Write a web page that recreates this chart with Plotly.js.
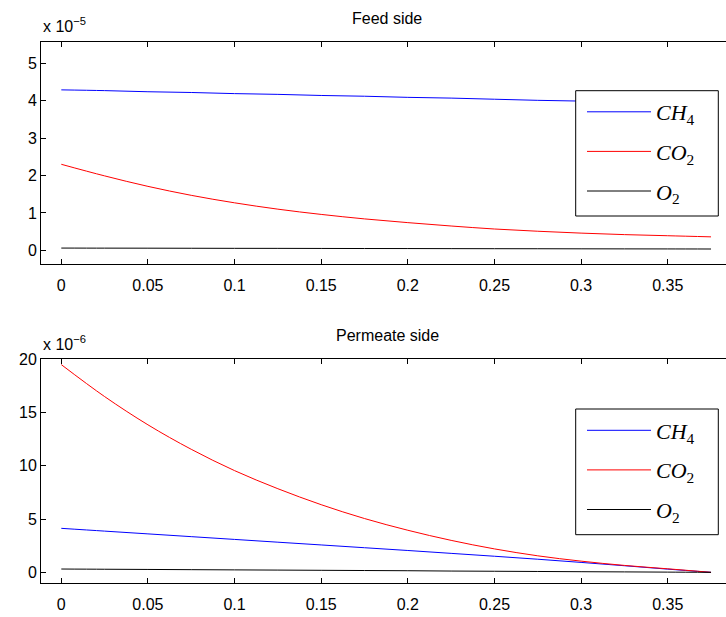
<!DOCTYPE html>
<html>
<head>
<meta charset="utf-8">
<script src="https://cdn.plot.ly/plotly-3.0.1.min.js"></script>
<style>
html,body{margin:0;padding:0;overflow:hidden;background:#fff;}
#chart{width:745px;height:617px;}
</style>
</head>
<body>
<div id="chart"></div>
<script>
// Shared x positions (membrane length)
const xPos = [0, 0.025, 0.05, 0.075, 0.1, 0.125, 0.15, 0.175, 0.2, 0.225, 0.25, 0.275, 0.3, 0.325, 0.35, 0.375];

// Feed side (units of 1e-5)
const feedCH4 = [4.29, 4.27, 4.24, 4.22, 4.19, 4.17, 4.14, 4.12, 4.09, 4.07, 4.04, 4.01, 3.99, 3.96, 3.94, 3.91];
const feedCO2 = [2.30, 1.99, 1.71, 1.47, 1.27, 1.10, 0.96, 0.84, 0.74, 0.65, 0.57, 0.51, 0.46, 0.42, 0.39, 0.36];
const feedO2  = [0.060, 0.058, 0.057, 0.055, 0.053, 0.052, 0.050, 0.048, 0.047, 0.045, 0.043, 0.042, 0.040, 0.038, 0.037, 0.035];

// Permeate side (units of 1e-6)
const permCH4 = [4.13, 3.87, 3.61, 3.35, 3.09, 2.83, 2.57, 2.31, 2.05, 1.78, 1.51, 1.23, 0.93, 0.62, 0.30, 0.0];
const permCO2 = [19.5, 16.5, 13.85, 11.55, 9.55, 7.85, 6.35, 5.05, 3.95, 3.0, 2.2, 1.55, 1.05, 0.65, 0.33, 0.0];
const permO2  = [0.31, 0.29, 0.27, 0.25, 0.23, 0.21, 0.19, 0.17, 0.15, 0.12, 0.10, 0.08, 0.06, 0.04, 0.02, 0.0];

const seriesNames = ['<i>CH</i><sub>4</sub>', '<i>CO</i><sub>2</sub>', '<i>O</i><sub>2</sub>'];
const seriesColors = ['#0000ff', '#ff0000', '#000000'];
const titles = ['Feed side', 'Permeate side'];
const exponents = ['x 10<sup>\u22125</sup>', 'x 10<sup>\u22126</sup>'];

const W = 745, H = 617;
const plotL = 41, plotR = 733;
const topY = [41.7, 264.3], botY = [359.3, 583.3];
const x0px = 61.3, pxPerUnit = 1732.6;
const xRange = [(plotL - x0px) / pxPerUnit, (plotR - x0px) / pxPerUnit];

const traces = [];
[[feedCH4, feedCO2, feedO2], [permCH4, permCO2, permO2]].forEach((set, k) => {
  set.forEach((ys, i) => {
    traces.push({
      x: xPos, y: ys, type: 'scatter', mode: 'lines',
      name: seriesNames[i],
      line: {color: seriesColors[i], width: 1, shape: 'spline', smoothing: 1},
      xaxis: k === 0 ? 'x' : 'x2',
      yaxis: k === 0 ? 'y' : 'y2',
      legend: k === 0 ? 'legend' : 'legend2',
      legendgroup: 'g' + k + i
    });
  });
});

const font = {family: 'Liberation Sans, Arial, Helvetica, sans-serif', size: 16, color: '#000'};
const axisCommon = {
  showline: true, linecolor: '#000', linewidth: 1, mirror: 'ticks',
  ticks: 'inside', ticklen: 5, tickcolor: '#000', tickwidth: 1,
  showgrid: false, zeroline: false, tickfont: font, fixedrange: true
};
const dom = (a) => [1 - a[1] / H, 1 - a[0] / H];
const px2x = (p) => (p - plotL) / (plotR - plotL);
const px2y = (p) => 1 - p / H;

const legendCommon = {
  x: px2x(582), xanchor: 'left', yanchor: 'top',
  bgcolor: 'rgba(0,0,0,0)', borderwidth: 0,
  font: {family: 'Liberation Serif, DejaVu Serif, serif', size: 22, color: '#000'},
  itemwidth: 64, tracegroupgap: 8, traceorder: 'grouped'
};

// Legend boxes (px): [left, top, right, bottom]
const boxes = [[575.7, 90.7, 718.3, 216], [575.7, 409, 718.3, 534.7]];

const layout = {
  width: W, height: H,
  margin: {l: plotL, r: W - plotR, t: 0, b: 0, pad: 0},
  paper_bgcolor: '#fff', plot_bgcolor: '#fff',
  font: font,
  xaxis: Object.assign({}, axisCommon, {domain: [0, 1], range: xRange, dtick: 0.05, tick0: 0, anchor: 'y', ticklabelstandoff: 6}),
  yaxis: Object.assign({}, axisCommon, {domain: dom(topY), range: [-0.374, 5.578], dtick: 1, tick0: 0, anchor: 'x'}),
  xaxis2: Object.assign({}, axisCommon, {domain: [0, 1], range: xRange, dtick: 0.05, tick0: 0, anchor: 'y2', ticklabelstandoff: 6}),
  yaxis2: Object.assign({}, axisCommon, {domain: dom(botY), range: [-1.03, 20], dtick: 5, tick0: 0, anchor: 'x2'}),
  legend: Object.assign({}, legendCommon, {y: px2y(91)}),
  legend2: Object.assign({}, legendCommon, {y: px2y(409.5)}),
  showlegend: true,
  shapes: boxes.map(b => ({
    type: 'rect', xref: 'paper', yref: 'paper', layer: 'above',
    x0: px2x(b[0]), x1: px2x(b[2]), y0: px2y(b[3]), y1: px2y(b[1]),
    line: {color: '#000', width: 1}, fillcolor: '#fff'
  })),
  annotations: [
    {text: titles[0], xref: 'paper', yref: 'paper', x: 0.5, y: px2y(18), xanchor: 'center', yanchor: 'middle', showarrow: false, font: font},
    {text: titles[1], xref: 'paper', yref: 'paper', x: 0.5, y: px2y(335), xanchor: 'center', yanchor: 'middle', showarrow: false, font: font},
    {text: exponents[0], xref: 'paper', yref: 'paper', x: 0, y: px2y(25), xanchor: 'left', yanchor: 'middle', showarrow: false, font: font},
    {text: exponents[1], xref: 'paper', yref: 'paper', x: 0, y: px2y(342.6), xanchor: 'left', yanchor: 'middle', showarrow: false, font: font}
  ]
};

Plotly.newPlot('chart', traces, layout, {staticPlot: true, displayModeBar: false});
</script>
</body>
</html>
